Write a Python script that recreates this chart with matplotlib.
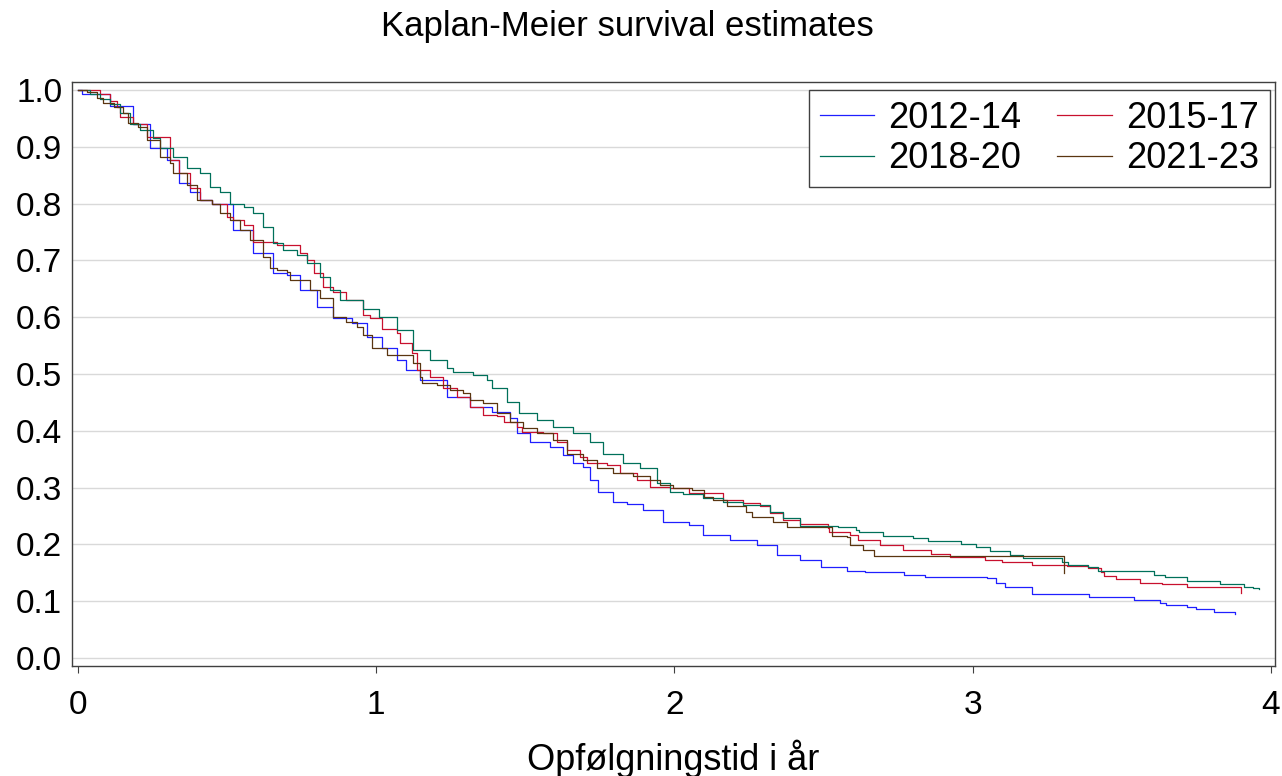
import matplotlib.pyplot as plt

plt.rcParams['font.family'] = ['Liberation Sans', 'DejaVu Sans']

# Kaplan-Meier step points (time in years, survival)
t_1214 = [0, 0.012, 0.107, 0.185, 0.24, 0.30, 0.34, 0.376, 0.41, 0.45, 0.52, 0.587, 0.655, 0.70,
          0.744, 0.80, 0.856, 0.92, 0.968, 1.02, 1.07, 1.10, 1.147, 1.237, 1.314, 1.39, 1.449, 1.472,
          1.516, 1.583, 1.627, 1.66, 1.694, 1.717, 1.744, 1.794, 1.84, 1.895, 1.962, 2.05, 2.096,
          2.186, 2.276, 2.344, 2.42, 2.49, 2.58, 2.64, 2.77, 2.84, 3.05, 3.08, 3.11, 3.20, 3.39,
          3.54, 3.63, 3.65, 3.72, 3.75, 3.81, 3.88]
s_1214 = [1.0, 0.993, 0.971, 0.94, 0.898, 0.877, 0.836, 0.82, 0.806, 0.80, 0.753, 0.713, 0.678, 0.675,
          0.648, 0.618, 0.598, 0.59, 0.565, 0.545, 0.525, 0.507, 0.489, 0.46, 0.442, 0.433, 0.422, 0.396,
          0.38, 0.372, 0.357, 0.343, 0.336, 0.313, 0.292, 0.275, 0.271, 0.26, 0.239, 0.234, 0.216,
          0.208, 0.199, 0.181, 0.172, 0.161, 0.153, 0.151, 0.146, 0.142, 0.141, 0.132, 0.125, 0.112, 0.108,
          0.103, 0.097, 0.093, 0.090, 0.086, 0.081, 0.077]

t_1517 = [0, 0.074, 0.107, 0.13, 0.14, 0.185, 0.23, 0.31, 0.34, 0.376, 0.41, 0.45, 0.50, 0.52, 0.555,
          0.587, 0.667, 0.744, 0.768, 0.79, 0.82, 0.856, 0.90, 0.956, 0.98, 1.02, 1.07, 1.08, 1.12,
          1.136, 1.18, 1.225, 1.27, 1.314, 1.358, 1.405, 1.427, 1.472, 1.49, 1.56, 1.606, 1.64, 1.683,
          1.707, 1.774, 1.818, 1.874, 1.918, 1.985, 2.05, 2.163, 2.23, 2.287, 2.32, 2.364, 2.42, 2.515,
          2.52, 2.59, 2.617, 2.69, 2.767, 2.86, 2.924, 3.04, 3.10, 3.20, 3.315, 3.387, 3.43, 3.44, 3.48,
          3.56, 3.635, 3.72, 3.89, 3.90]
s_1517 = [1.0, 0.993, 0.98, 0.97, 0.953, 0.94, 0.917, 0.877, 0.854, 0.827, 0.806, 0.80, 0.777, 0.771, 0.762,
          0.732, 0.727, 0.713, 0.70, 0.678, 0.653, 0.644, 0.63, 0.604, 0.598, 0.58, 0.572, 0.554, 0.537,
          0.507, 0.495, 0.475, 0.46, 0.442, 0.428, 0.426, 0.416, 0.407, 0.398, 0.396, 0.38, 0.366, 0.354,
          0.343, 0.34, 0.326, 0.313, 0.301, 0.299, 0.29, 0.278, 0.273, 0.268, 0.255, 0.243, 0.236, 0.229,
          0.222, 0.217, 0.208, 0.199, 0.19, 0.183, 0.178, 0.173, 0.169, 0.164, 0.162, 0.158, 0.151, 0.144, 0.139,
          0.132, 0.130, 0.125, 0.125, 0.115]

t_1820 = [0, 0.04, 0.074, 0.107, 0.14, 0.174, 0.208, 0.252, 0.275, 0.32, 0.365, 0.41, 0.443, 0.476,
          0.51, 0.555, 0.587, 0.62, 0.655, 0.688, 0.734, 0.768, 0.81, 0.845, 0.879, 0.956, 1.01, 1.07,
          1.124, 1.18, 1.237, 1.258, 1.325, 1.37, 1.39, 1.438, 1.48, 1.54, 1.594, 1.66, 1.717, 1.76,
          1.828, 1.885, 1.94, 1.985, 2.03, 2.096, 2.163, 2.23, 2.32, 2.364, 2.42, 2.55, 2.61, 2.62, 2.70,
          2.80, 2.85, 2.96, 3.01, 3.06, 3.125, 3.17, 3.30, 3.32, 3.387, 3.42, 3.61, 3.645, 3.72, 3.83,
          3.91, 3.94, 3.96]
s_1820 = [1.0, 0.993, 0.984, 0.975, 0.96, 0.94, 0.93, 0.915, 0.898, 0.882, 0.863, 0.854, 0.83, 0.82,
          0.80, 0.794, 0.783, 0.759, 0.731, 0.718, 0.709, 0.695, 0.671, 0.648, 0.63, 0.614, 0.60, 0.577,
          0.542, 0.524, 0.51, 0.504, 0.498, 0.489, 0.475, 0.451, 0.431, 0.419, 0.407, 0.396, 0.38, 0.36,
          0.343, 0.334, 0.308, 0.292, 0.289, 0.282, 0.275, 0.269, 0.257, 0.246, 0.233, 0.231, 0.225, 0.222, 0.215,
          0.211, 0.206, 0.20, 0.195, 0.189, 0.181, 0.176, 0.169, 0.164, 0.160, 0.153, 0.146, 0.142, 0.136, 0.130,
          0.125, 0.123, 0.121]

t_2123 = [0, 0.03, 0.064, 0.084, 0.12, 0.15, 0.168, 0.20, 0.23, 0.275, 0.31, 0.32, 0.365, 0.40, 0.45,
          0.476, 0.51, 0.543, 0.577, 0.62, 0.644, 0.667, 0.70, 0.711, 0.778, 0.81, 0.856, 0.90, 0.935,
          0.956, 0.986, 1.035, 1.124, 1.147, 1.153, 1.204, 1.247, 1.29, 1.314, 1.358, 1.405, 1.449, 1.492,
          1.54, 1.594, 1.64, 1.694, 1.74, 1.794, 1.86, 1.918, 1.952, 1.996, 2.06, 2.10, 2.13, 2.175, 2.24,
          2.26, 2.33, 2.376, 2.528, 2.58, 2.59, 2.633, 2.67, 3.307]
s_2123 = [1.0, 0.996, 0.986, 0.977, 0.97, 0.96, 0.942, 0.935, 0.912, 0.882, 0.871, 0.854, 0.833, 0.806, 0.80,
          0.783, 0.771, 0.753, 0.736, 0.706, 0.687, 0.683, 0.68, 0.665, 0.648, 0.634, 0.60, 0.592, 0.583,
          0.569, 0.546, 0.533, 0.519, 0.495, 0.484, 0.481, 0.472, 0.466, 0.454, 0.449, 0.431, 0.416, 0.405,
          0.396, 0.384, 0.36, 0.349, 0.334, 0.326, 0.321, 0.313, 0.305, 0.299, 0.296, 0.284, 0.278, 0.268, 0.257,
          0.248, 0.239, 0.231, 0.215, 0.213, 0.199, 0.19, 0.18, 0.15]

labels = ['2012-14', '2015-17', '2018-20', '2021-23']
colors = ['#1f1fff', '#c8102e', '#00705a', '#5a3510']
curves = [(t_1214, s_1214), (t_1517, s_1517), (t_1820, s_1820), (t_2123, s_2123)]

fig = plt.figure(figsize=(12.82, 7.76), dpi=100)
ax = fig.add_axes([0.0562, 0.1418, 0.9383, 0.7525])

lines = []
for (t, s), lab, col in zip(curves, labels, colors):
    ln, = ax.plot(t, s, drawstyle='steps-post', color=col, lw=0.9, label=lab)
    lines.append(ln)

ax.set_xlim(-0.02, 4.014)
ax.set_ylim(-0.014, 1.014)
ax.set_xticks([0, 1, 2, 3, 4])
ax.set_yticks([i / 10 for i in range(11)])
ax.set_yticklabels([f'{i / 10:.1f}' for i in range(11)])
ax.yaxis.grid(True, color='#d9d9d9', lw=1)
ax.set_axisbelow(True)
ax.tick_params(axis='y', length=0, pad=7, labelsize=24)
ax.tick_params(axis='x', length=5, width=0.8, color='#404040', pad=12, labelsize=24)
for sp in ax.spines.values():
    sp.set_color('#404040')
    sp.set_linewidth(1)

ax.set_xlabel('Opfølgningstid i år', fontsize=26, labelpad=14)
fig.suptitle('Kaplan-Meier survival estimates', fontsize=25, x=0.489, y=0.987)

# row-major legend order: matplotlib fills columns first
order = [0, 2, 1, 3]
leg = ax.legend([lines[i] for i in order], [labels[i] for i in order], ncol=2,
                loc='upper right', bbox_to_anchor=(0.9958, 0.986), fontsize=26,
                frameon=True, fancybox=False, edgecolor='#404040', framealpha=1,
                handlelength=1.5, handletextpad=0.4, columnspacing=1.0, labelspacing=0.15,
                borderpad=0.3, borderaxespad=0)
leg.get_frame().set_linewidth(1)

fig.savefig('out.png', dpi=100)
